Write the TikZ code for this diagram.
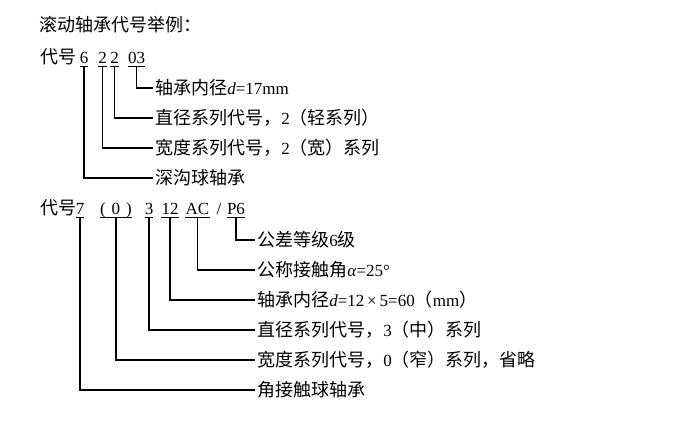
\documentclass[tikz,border=0pt]{standalone}
\usepackage{fontspec}
\setmainfont{Liberation Serif}
\newfontfamily\cjk[Scale=1.06]{Noto Sans CJK SC}
\begin{document}
\begin{tikzpicture}[x=1pt,y=-1pt,
  every node/.style={font=\fontsize{17}{20}\selectfont,text=black},
  code/.style={anchor=base,inner sep=0pt},
  lbl/.style={anchor=west,inner sep=2pt},
  conn/.style={line width=1.1pt,black},
  uline/.style={line width=0.9pt,black}]
\useasboundingbox (0,0) rectangle (679,426);
% title
\node[anchor=base west,inner sep=0pt] (title) at (39,31) {{\cjk 滚动轴承代号举例：}};
% line 1
\node[anchor=base west,inner sep=0pt] (dh1) at (40,63) {{\cjk 代号}};
\node[code] (a6) at (84,63) {6};
\node[code] (a2a) at (102.5,63) {2};
\node[code] (a2b) at (114.5,63) {2};
\node[code] (a03) at (136.5,63) {03};
\foreach \n in {a6,a2a,a2b,a03}
  \draw[uline] ([yshift=-3.5pt]\n.base west) -- ([yshift=-3.5pt]\n.base east);
\node[lbl] (l1) at (153,88) {{\cjk 轴承内径}\textit{d}=17mm};
\node[lbl] (l2) at (153,118) {{\cjk 直径系列代号，}2{\cjk （轻系列）}};
\node[lbl] (l3) at (153,148) {{\cjk 宽度系列代号，}2{\cjk （宽）系列}};
\node[lbl] (l4) at (153,178) {{\cjk 深沟球轴承}};
\draw[conn] ([yshift=-3.5pt]a03.base) |- (l1.west);
\draw[conn] ([yshift=-3.5pt]a2b.base) |- (l2.west);
\draw[conn] ([yshift=-3.5pt]a2a.base) |- (l3.west);
\draw[conn] ([yshift=-3.5pt]a6.base) |- (l4.west);
% line 2
\node[anchor=base west,inner sep=0pt] (dh2) at (40,214) {{\cjk 代号}};
\node[code] (b7) at (80,214) {7};
\node[code] (b0) at (116,214) {(\hspace{6pt}0\hspace{6pt})};
\node[code] (b3) at (149,214) {3};
\node[code] (b12) at (170,214) {12};
\node[code] (bac) at (197.5,214) {AC};
\node[code] (bsl) at (219,214) {/};
\node[code] (bp6) at (236,214) {P6};
\foreach \n in {b7,b0,b3,b12,bac,bp6}
  \draw[uline] ([yshift=-3pt]\n.base west) -- ([yshift=-3pt]\n.base east);
\node[lbl] (m5) at (255,240) {{\cjk 公差等级}6{\cjk 级}};
\node[lbl] (m6) at (255,270) {{\cjk 公称接触角}\textit{α}=25°};
\node[lbl] (m7) at (255,300) {{\cjk 轴承内径}\textit{d}=12\,×\,5=60{\cjk （}mm{\cjk ）}};
\node[lbl] (m8) at (255,330) {{\cjk 直径系列代号，}3{\cjk （中）系列}};
\node[lbl] (m9) at (255,360) {{\cjk 宽度系列代号，}0{\cjk （窄）系列，省略}};
\node[lbl] (m10) at (255,390) {{\cjk 角接触球轴承}};
\draw[conn] ([yshift=-3pt]bp6.base) |- (m5.west);
\draw[conn] ([yshift=-3pt]bac.base) |- (m6.west);
\draw[conn] ([yshift=-3pt]b12.base) |- (m7.west);
\draw[conn] ([yshift=-3pt]b3.base) |- (m8.west);
\draw[conn] ([yshift=-3pt]b0.base) |- (m9.west);
\draw[conn] ([yshift=-3pt]b7.base) |- (m10.west);
\end{tikzpicture}
\end{document}
